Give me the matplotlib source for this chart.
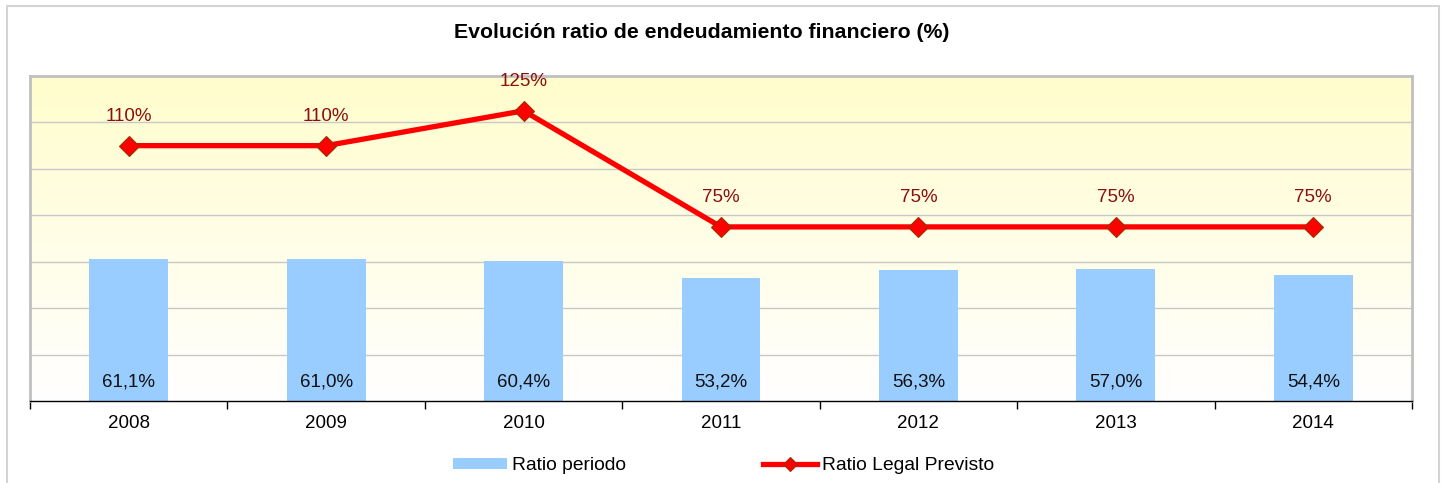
import numpy as np
import matplotlib.pyplot as plt
from matplotlib.colors import LinearSegmentedColormap
from matplotlib.patches import Rectangle, Patch
from matplotlib.lines import Line2D

plt.rcParams['font.family'] = ['Liberation Sans', 'DejaVu Sans']

years = ['2008', '2009', '2010', '2011', '2012', '2013', '2014']
ratio_periodo = [61.1, 61.0, 60.4, 53.2, 56.3, 57.0, 54.4]
ratio_legal = [110, 110, 125, 75, 75, 75, 75]
bar_labels = ['61,1%', '61,0%', '60,4%', '53,2%', '56,3%', '57,0%', '54,4%']
line_labels = ['110%', '110%', '125%', '75%', '75%', '75%', '75%']

fig = plt.figure(figsize=(14.45, 4.83), dpi=100)
W, H = 1445, 483

# outer chart frame
fig.patches.append(Rectangle((6.5 / W, -0.1), 1432.5 / W, 1.1 - 6.5 / H,
                             transform=fig.transFigure, fill=False,
                             edgecolor='#d4d4d4', linewidth=1.5))

ax = fig.add_axes([30 / W, 1 - 401 / H, 1382 / W, 325 / H])
x = np.arange(len(years))

# gradient background: pale yellow top to white bottom
cmap = LinearSegmentedColormap.from_list('bg', ['#ffffff', '#fffdcc'])
grad = np.linspace(0, 1, 256).reshape(-1, 1)
ax.imshow(grad, extent=[-0.5, 6.5, 0, 140], origin='lower', aspect='auto',
          cmap=cmap, zorder=0)

for y in range(20, 140, 20):
    ax.axhline(y, color='#c8c8c8', linewidth=1, zorder=1)

ax.bar(x, ratio_periodo, width=0.4, color='#99ccff', zorder=2)
ax.plot(x, ratio_legal, color='#ff0000', linewidth=3.8, marker='D', markersize=10,
        markerfacecolor='#ff0000', markeredgecolor='#993300', markeredgewidth=0.8,
        zorder=3)

for xi, t in zip(x, bar_labels):
    ax.text(xi, 8.0, t, ha='center', va='center', fontsize=13.5, color='#111111', zorder=4)
for xi, v, t in zip(x, ratio_legal, line_labels):
    ax.text(xi, v + 12.5, t, ha='center', va='center', fontsize=13.5, color='#8b0f0f', zorder=4)

ax.set_xlim(-0.5, 6.5)
ax.set_ylim(0, 140)
ax.set_yticks([])
ax.set_xticks(np.arange(-0.5, 7, 1))
ax.set_xticklabels([])
ax.set_xticks(x, minor=True)
ax.set_xticklabels(years, minor=True, fontsize=13.5)
ax.tick_params(axis='x', which='major', length=6, direction='out', color='black', width=1)
ax.tick_params(axis='x', which='minor', length=0, pad=10)

for s in ['left', 'top', 'right']:
    ax.spines[s].set_color('#c0c0c0')
    ax.spines[s].set_linewidth(2)
ax.spines['bottom'].set_color('black')
ax.spines['bottom'].set_linewidth(1)

fig.text(702 / W, 1 - 33 / H, 'Evolución ratio de endeudamiento financiero (%)',
         ha='center', va='center', fontsize=15.3, fontweight='bold')

handles = [Patch(facecolor='#99ccff', edgecolor='none'),
           Line2D([], [], color='#ff0000', linewidth=3.8, marker='D', markersize=7,
                  markerfacecolor='#ff0000', markeredgecolor='#993300', markeredgewidth=0.8)]
fig.legend(handles, ['Ratio periodo', 'Ratio Legal Previsto'],
           loc='center left', bbox_to_anchor=(452.7 / W, 1 - 466 / H), ncol=2, frameon=False,
           fontsize=13.9, handlelength=2.8, handletextpad=0.27, columnspacing=7.1,
           handleheight=0.52, borderpad=0, borderaxespad=0)

fig.savefig('out.png', dpi=100)
